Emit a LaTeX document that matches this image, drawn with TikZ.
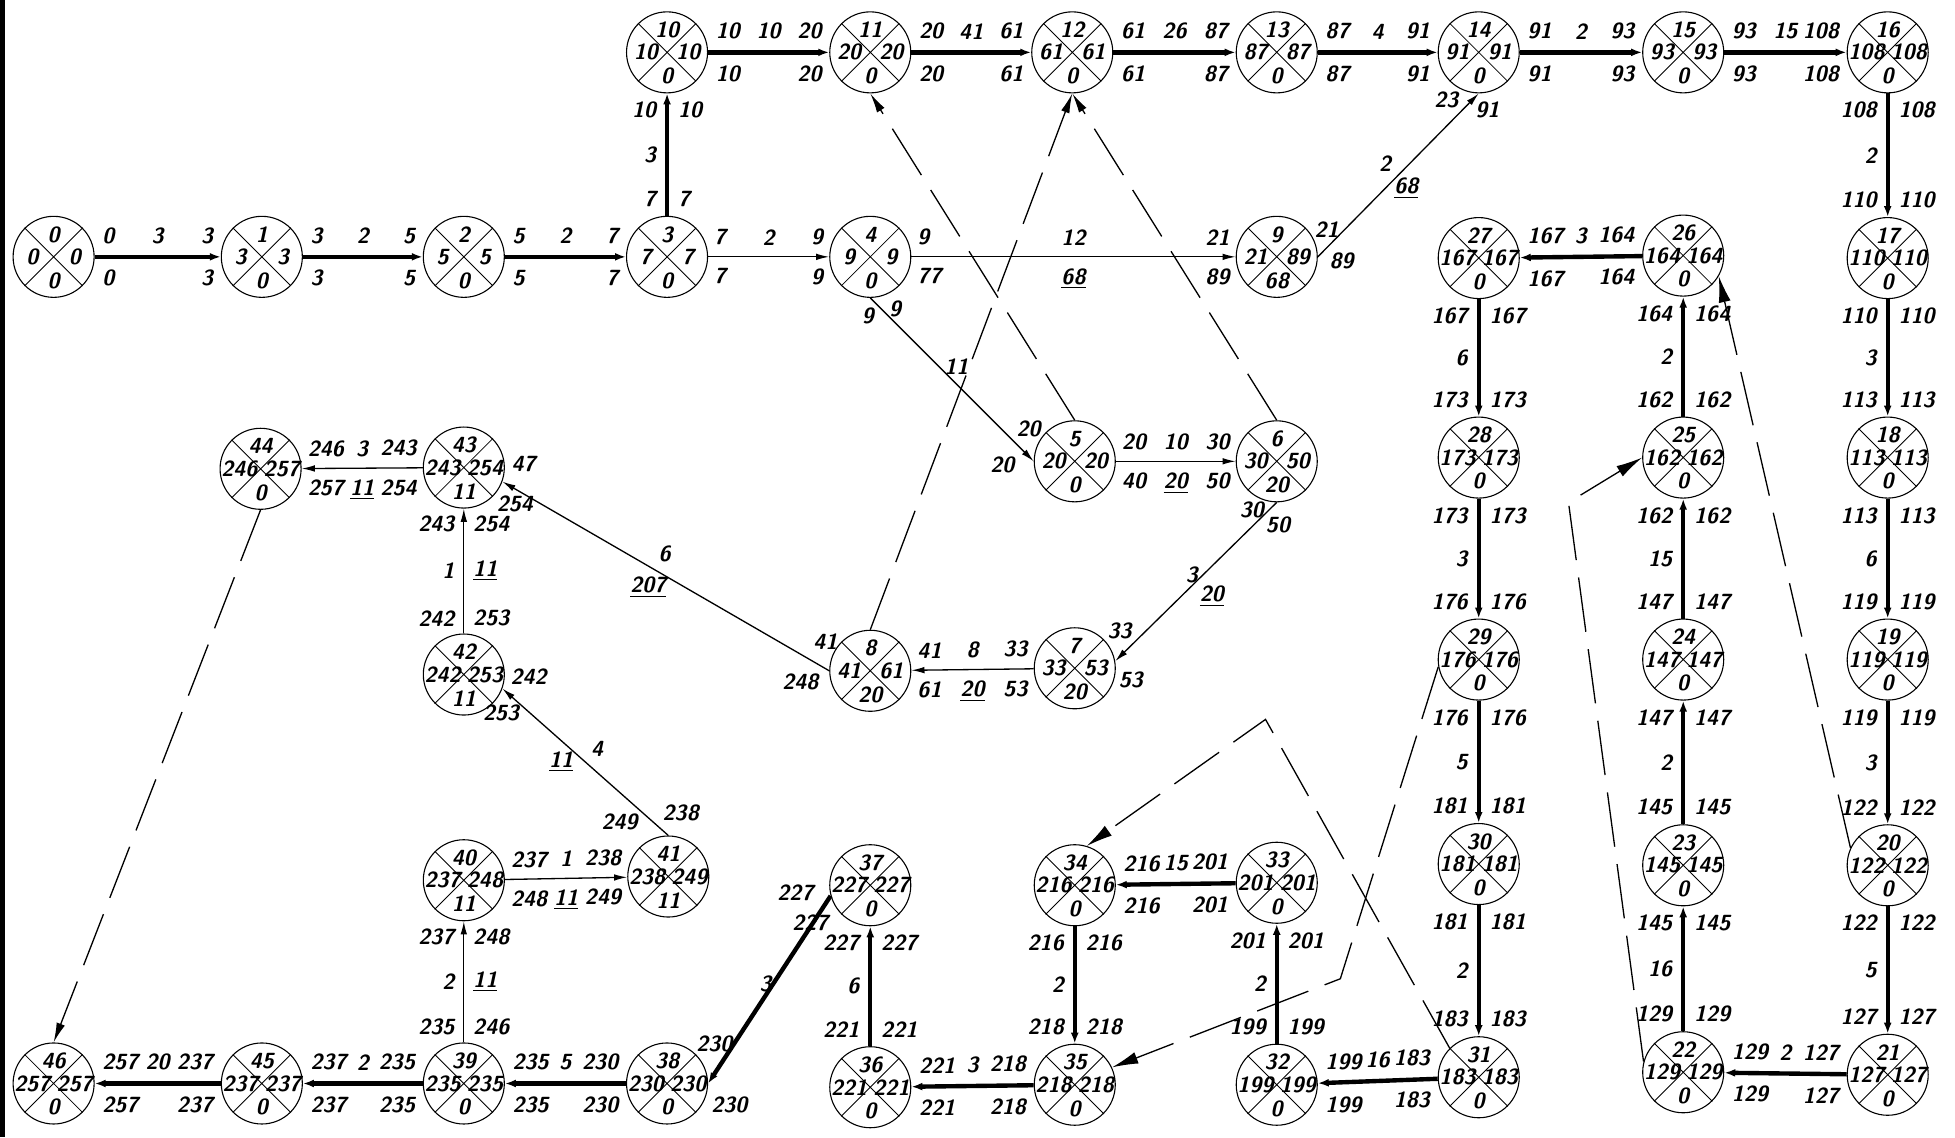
\documentclass[tikz,border=0pt]{standalone}
\usetikzlibrary{arrows.meta}
\tikzset{
  ereignis/.style={circle,draw,line width=0.5pt,minimum size=1.3cm,inner sep=0pt},
  zahl/.style={font=\fontsize{10}{10}\selectfont\sffamily\bfseries\slshape,inner sep=0pt},
  zh/.style={zahl,inner xsep=2.5pt,inner ysep=5pt},
  zv/.style={zahl,inner xsep=4pt,inner ysep=3pt},
  krit/.style={line width=2pt,-{Latex[length=5pt,width=3.6pt]}},
  arb/.style={line width=0.6pt,-{Latex[length=6pt,width=3pt]}},
  fikt/.style={line width=0.6pt,dash pattern=on 25pt off 8pt,-{Latex[length=9pt,width=4pt]}},
  grosspfeil/.style={-{Latex[length=12pt,width=5.5pt]}}
}
\begin{document}
\begin{tikzpicture}[x=0.02cm,y=-0.02cm]
\useasboundingbox (0,0) rectangle (1568,912);
\fill[white] (0,0) rectangle (1568,912);
\fill[black] (0,0) rectangle (4,912);
% Ereignisse: Nummer / x / y / frueh / spaet / Reserve
\foreach \n/\x/\y/\fr/\sp/\res in {
  0/43/206/0/0/0, 1/210/206/3/3/0, 2/372/206/5/5/0, 3/535/206/7/7/0,
  4/698/206/9/9/0, 5/862/370/20/20/0, 6/1024/370/30/50/20, 7/862/536/33/53/20,
  8/698/538/41/61/20, 9/1024/206/21/89/68, 10/535/42/10/10/0, 11/698/42/20/20/0,
  12/860/42/61/61/0, 13/1024/42/87/87/0, 14/1186/42/91/91/0, 15/1350/42/93/93/0,
  16/1514/42/108/108/0, 17/1514/207/110/110/0, 18/1514/367/113/113/0,
  19/1514/529/119/119/0, 20/1514/694/122/122/0, 21/1514/862/127/127/0,
  22/1350/860/129/129/0, 23/1350/694/145/145/0, 24/1350/529/147/147/0,
  25/1350/367/162/162/0, 26/1350/205/164/164/0, 27/1186/207/167/167/0,
  28/1186/367/173/173/0, 29/1186/529/176/176/0, 30/1186/693/181/181/0,
  31/1186/864/183/183/0, 32/1024/870/199/199/0, 33/1024/708/201/201/0,
  34/862/710/216/216/0, 35/862/870/218/218/0, 36/698/872/221/221/0,
  37/698/710/227/227/0, 38/535/869/230/230/0, 39/372/869/235/235/0,
  40/372/706/237/248/11, 41/536/703/238/249/11, 42/372/541/242/253/11,
  43/372/375/243/254/11, 44/209/376/246/257/0, 45/210/869/237/237/0,
  46/43/869/257/257/0}{
  \node[ereignis] (e\n) at (\x,\y) {};
  \draw[line width=0.4pt] (e\n.45) -- (e\n.225) (e\n.135) -- (e\n.315);
  \node[zahl] at (\x,\y-18) {\n};
  \node[zahl] at (\x-17,\y) {\fr};
  \node[zahl] at (\x+17,\y) {\sp};
  \node[zahl] at (\x,\y+19) {\res};
}
% kritischer Weg, nach rechts
\foreach \a/\b/\ta/\tb/\dur/\ha/\hb in {0/1/0/0/3/3/3, 1/2/3/3/2/5/5, 2/3/5/5/2/7/7,
  10/11/10/10/10/20/20, 11/12/20/20/41/61/61, 12/13/61/61/26/87/87,
  13/14/87/87/4/91/91, 14/15/91/91/2/93/93, 15/16/93/93/15/108/108}
  \draw[krit] (e\a) -- (e\b)
    node[zh,pos=0,above right] {\ta} node[zh,pos=0,below right] {\tb}
    node[zh,midway,above] {\dur}
    node[zh,pos=1,above left] {\ha} node[zh,pos=1,below left] {\hb};
% kritischer Weg, nach links
\foreach \a/\b/\ta/\tb/\dur/\ha/\hb in {21/22/127/127/2/129/129, 26/27/164/164/3/167/167,
  31/32/183/183/16/199/199, 33/34/201/201/15/216/216, 35/36/218/218/3/221/221,
  38/39/230/230/5/235/235, 39/45/235/235/2/237/237, 45/46/237/237/20/257/257}
  \draw[krit] (e\a) -- (e\b)
    node[zh,pos=0,above left] {\ta} node[zh,pos=0,below left] {\tb}
    node[zh,midway,above] {\dur}
    node[zh,pos=1,above right] {\ha} node[zh,pos=1,below right] {\hb};
% kritischer Weg, nach unten
\foreach \a/\b/\ta/\tb/\dur/\ha/\hb in {16/17/108/108/2/110/110, 17/18/110/110/3/113/113,
  18/19/113/113/6/119/119, 19/20/119/119/3/122/122, 20/21/122/122/5/127/127,
  27/28/167/167/6/173/173, 28/29/173/173/3/176/176, 29/30/176/176/5/181/181,
  30/31/181/181/2/183/183, 34/35/216/216/2/218/218}
  \draw[krit] (e\a) -- (e\b)
    node[zv,pos=0,below left] {\ta} node[zv,pos=0,below right] {\tb}
    node[zv,midway,left] {\dur}
    node[zv,pos=1,above left] {\ha} node[zv,pos=1,above right] {\hb};
% kritischer Weg, nach oben
\foreach \a/\b/\ta/\tb/\dur/\ha/\hb in {3/10/7/7/3/10/10, 22/23/129/129/16/145/145,
  23/24/145/145/2/147/147, 24/25/147/147/15/162/162, 25/26/162/162/2/164/164,
  32/33/199/199/2/201/201, 36/37/221/221/6/227/227}
  \draw[krit] (e\a) -- (e\b)
    node[zv,pos=0,above left] {\ta} node[zv,pos=0,above right] {\tb}
    node[zv,midway,left] {\dur}
    node[zv,pos=1,below left] {\ha} node[zv,pos=1,below right] {\hb};
% schraeg, kritisch
\draw[krit] (e37.195) -- (e38.east);
\node[zahl] at (638,716) {227};
\node[zahl] at (650,740) {227};
\node[zahl] at (614,789) {3};
\node[zahl] at (573,837) {230};
\node[zahl] at (585,886) {230};
% nicht kritisch, waagerecht und senkrecht
\draw[arb] (e3) -- (e4)
  node[zh,pos=0,above right] {7} node[zh,pos=0,below right] {7}
  node[zh,midway,above] {2}
  node[zh,pos=1,above left] {9} node[zh,pos=1,below left] {9};
\foreach \a/\b/\ta/\tb/\dur/\fp/\ha/\hb in {4/9/9/77/12/68/21/89,
  5/6/20/40/10/20/30/50, 40/41/237/248/1/11/238/249}
  \draw[arb] (e\a) -- (e\b)
    node[zh,pos=0,above right] {\ta} node[zh,pos=0,below right] {\tb}
    node[zh,midway,above] {\dur} node[zh,midway,below] {\underline{\fp}}
    node[zh,pos=1,above left] {\ha} node[zh,pos=1,below left] {\hb};
\foreach \a/\b/\ta/\tb/\dur/\fp/\ha/\hb in {7/8/33/53/8/20/41/61, 43/44/243/254/3/11/246/257}
  \draw[arb] (e\a) -- (e\b)
    node[zh,pos=0,above left] {\ta} node[zh,pos=0,below left] {\tb}
    node[zh,midway,above] {\dur} node[zh,midway,below] {\underline{\fp}}
    node[zh,pos=1,above right] {\ha} node[zh,pos=1,below right] {\hb};
\foreach \a/\b/\ta/\tb/\dur/\fp/\ha/\hb in {39/40/235/246/2/11/237/248, 42/43/242/253/1/11/243/254}
  \draw[arb] (e\a) -- (e\b)
    node[zv,pos=0,above left] {\ta} node[zv,pos=0,above right] {\tb}
    node[zv,midway,left] {\dur} node[zv,midway,right] {\underline{\fp}}
    node[zv,pos=1,below left] {\ha} node[zv,pos=1,below right] {\hb};
% nicht kritisch, schraeg
\draw[arb] (e4.south) -- (e5.west);
\node[zahl] at (696,253) {9};
\node[zahl] at (718,248) {9};
\node[zahl] at (767,294) {11};
\node[zahl] at (825,344) {20};
\node[zahl] at (804,373) {20};
\draw[arb] (e6.south) -- (e7.10);
\node[zahl] at (1004,409) {30};
\node[zahl] at (1025,421) {50};
\node[zahl] at (956,461) {3};
\node[zahl] at (972,478) {\underline{20}};
\node[zahl] at (898,506) {33};
\node[zahl] at (907,545) {53};
\draw[arb] (e9.east) -- (e14.south);
\node[zahl] at (1064,184) {21};
\node[zahl] at (1076,209) {89};
\node[zahl] at (1111,131) {2};
\node[zahl] at (1128,151) {\underline{68}};
\node[zahl] at (1160,80) {23};
\node[zahl] at (1193,88) {91};
\draw[arb] (e8.west) -- (e43.-20);
\node[zahl] at (662,515) {41};
\node[zahl] at (642,547) {248};
\node[zahl] at (533,444) {6};
\node[zahl] at (520,471) {\underline{207}};
\node[zahl] at (420,372) {47};
\node[zahl] at (413,404) {254};
\draw[arb] (e41.north) -- (e42.-20);
\node[zahl] at (424,543) {242};
\node[zahl] at (402,572) {253};
\node[zahl] at (479,601) {4};
\node[zahl] at (450,611) {\underline{11}};
\node[zahl] at (497,659) {249};
\node[zahl] at (546,652) {238};
% fiktive Vorgaenge (gestrichelt)
\coordinate (k1) at (1075,785);
\coordinate (k2) at (1015,577);
\coordinate (k3) at (1258,403);
\draw[fikt] (e5.north) -- (e11.south);
\draw[fikt] (e6.north) -- (e12.south);
\draw[fikt] (e8.north) -- (e12.south);
\draw[fikt] (e44.south) -- (e46.north);
\draw[fikt,grosspfeil] (e29.190) -- (k1) -- (e35.25);
\draw[fikt,grosspfeil] (e31.135) -- (k2) -- (e34.73);
\draw[fikt,grosspfeil] (e22.165) -- (k3) -- (e25.west);
\draw[fikt,grosspfeil] (e20.155) -- (e26.-30);
\end{tikzpicture}
\end{document}
